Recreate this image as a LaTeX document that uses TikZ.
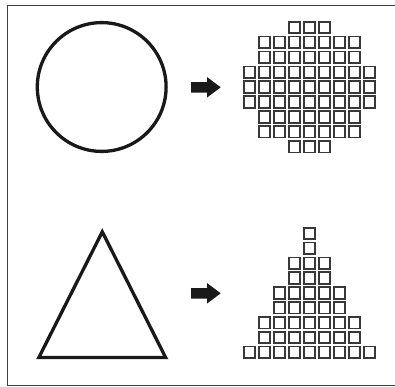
\documentclass[tikz,border=0pt]{standalone}
\begin{document}
\begin{tikzpicture}[x=1bp,y=-1bp,
  shapeline/.style={draw=black!90,line width=3.3bp,line join=miter},
  cell/.style={draw=black!78,fill=white,line width=1.7bp,rectangle,minimum size=11.6bp,inner sep=0pt,outer sep=0pt},
  fatarrow/.style={fill=black!90},
  framel/.style={draw=black!75,line width=1.3bp}]
\useasboundingbox (0,0) rectangle (395,387);
% frame (open at the right, as cut in the reference)
\draw[framel] (397,5.5) -- (7.5,5.5) -- (7.5,385.5) -- (397,385.5);
% circle
\node[shapeline,circle,minimum size=128.8bp,inner sep=0pt] (circ) at (101.7,87) {};
% triangle
\coordinate (tA) at (102.3,231.8);
\coordinate (tL) at (38.9,357.4);
\coordinate (tR) at (165.6,357.4);
\draw[shapeline] (tA) -- (tR) -- (tL) -- cycle;
% arrows
\foreach \dy/\nm in {0/arrA,206/arrB}{
  \fill[fatarrow] (191,82+\dy) -- (207,82+\dy) -- (207,77+\dy) -- (220.7,87.3+\dy)
     -- (207,97.6+\dy) -- (207,92.6+\dy) -- (191,92.6+\dy) -- cycle;
  \coordinate (\nm) at (206,87.3+\dy);
}
% circle grid
\foreach \r/\a/\b in {0/3/5,1/1/7,2/1/7,3/0/8,4/0/8,5/0/8,6/1/7,7/1/7,8/3/5}{
  \foreach \c in {\a,...,\b}{
    \node[cell] (g-\r-\c) at (249.5+15*\c,27.5+14.9*\r) {};
  }
}
% triangle grid
\foreach \r/\a/\b in {0/4/4,1/4/4,2/3/5,3/3/5,4/2/6,5/2/6,6/1/7,7/1/7,8/0/8}{
  \foreach \c in {\a,...,\b}{
    \node[cell] (t-\r-\c) at (249.5+15*\c,233.5+14.85*\r) {};
  }
}
\end{tikzpicture}
\end{document}
